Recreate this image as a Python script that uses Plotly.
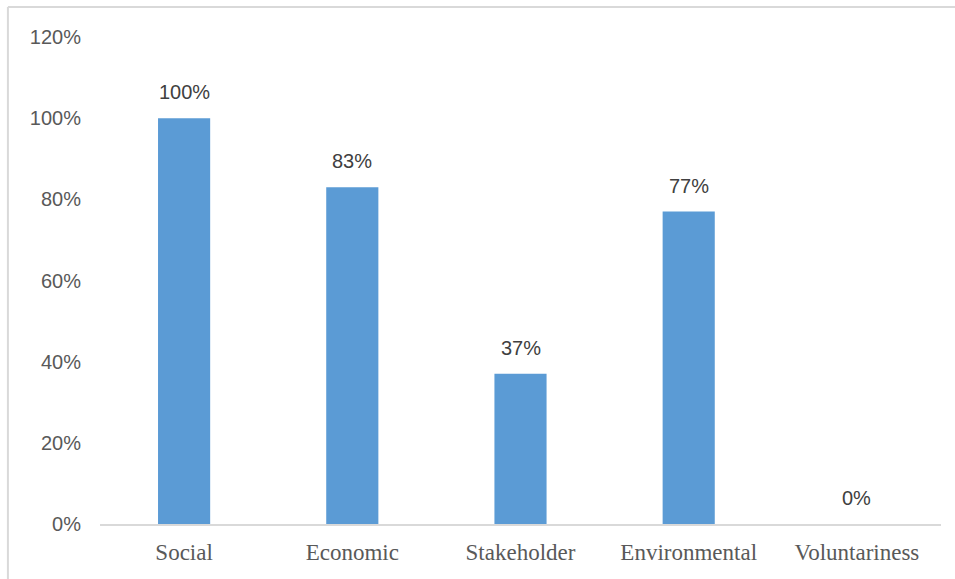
import plotly.graph_objects as go

categories = ["Social", "Economic", "Stakeholder", "Environmental", "Voluntariness"]
values = [1.00, 0.83, 0.37, 0.77, 0.00]
labels = ["100%", "83%", "37%", "77%", "0%"]
y_ticks = [0, 0.2, 0.4, 0.6, 0.8, 1.0, 1.2]
y_tick_labels = ["0%", "20%", "40%", "60%", "80%", "100%", "120%"]

fig = go.Figure()
fig.add_trace(go.Bar(
    x=categories, y=values,
    marker=dict(color="#5B9BD5", line=dict(width=0)),
    width=0.31,
))

for c, v, t in zip(categories, values, labels):
    fig.add_annotation(
        x=c, y=v, text=t, showarrow=False, yanchor="bottom", yshift=13,
        font=dict(family="Liberation Sans, Arial", size=20, color="#404040"),
    )

fig.update_layout(
    width=955, height=579,
    margin=dict(l=100, r=14, t=37, b=55),
    paper_bgcolor="white", plot_bgcolor="white",
    showlegend=False,
    bargap=0.69,
    xaxis=dict(
        showgrid=False, showline=True, linecolor="#D9D9D9", linewidth=1.5,
        ticks="", tickfont=dict(family="Liberation Serif, Times New Roman", size=23, color="#595959"),
        ticklabelstandoff=7,
    ),
    yaxis=dict(
        range=[0, 1.2], tickvals=y_ticks, ticktext=y_tick_labels,
        showgrid=False, showline=False, zeroline=False, ticks="",
        tickfont=dict(family="Liberation Sans, Arial", size=20, color="#595959"),
        ticklabelstandoff=18,
    ),
    shapes=[
        dict(type="line", xref="paper", yref="paper", x0=-0.1095, x1=1.1, y0=1.0616, y1=1.0616,
             line=dict(color="#D9D9D9", width=2)),
        dict(type="line", xref="paper", yref="paper", x0=-0.1095, x1=-0.1095, y0=-0.2, y1=1.0616,
             line=dict(color="#D9D9D9", width=2)),
    ],
)

fig.write_html("out.html")
